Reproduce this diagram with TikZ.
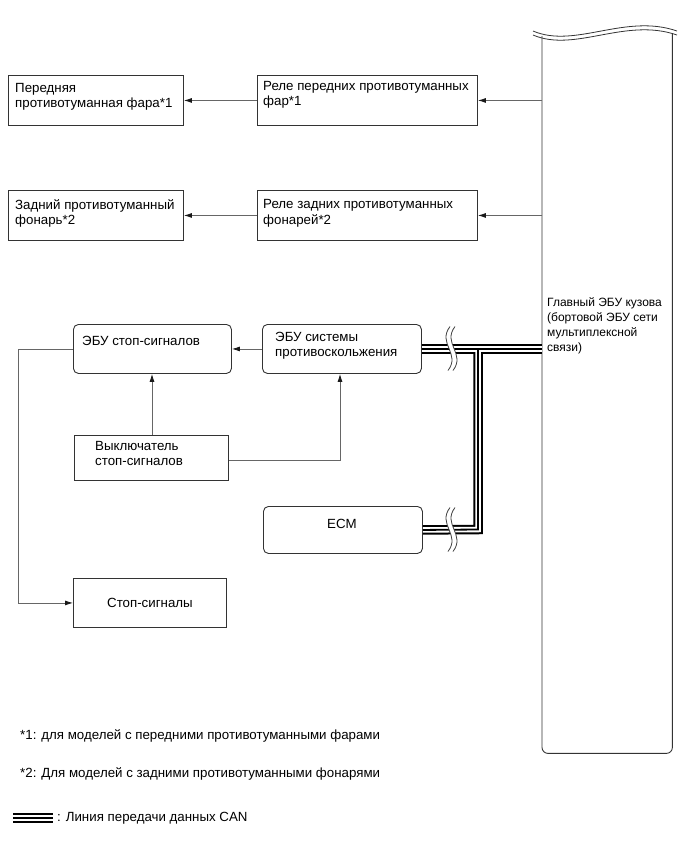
\documentclass[tikz,border=0pt]{standalone}
\usepackage{fontspec}
\setmainfont{Liberation Sans}
\usetikzlibrary{arrows.meta}
\newcommand\brkmark[1]{%
\begin{scope}[shift={#1}]
 \fill[white] (1,-22) .. controls (-12,-5) and (12,5) .. (-1,22) -- (4,22) .. controls (17,5) and (-7,-5) .. (6,-22) -- cycle;
 \draw[line width=0.8pt,black!75] (1,-22) .. controls (-12,-5) and (12,5) .. (-1,22);
 \draw[line width=0.8pt,black!75] (6,-22) .. controls (-7,-5) and (17,5) .. (4,22);
\end{scope}}
\begin{document}
\begin{tikzpicture}[x=1pt,y=-1pt,
 box/.style={draw=black!80, line width=0.9pt, inner sep=0, anchor=north west},
 rbox/.style={box, rounded corners=5pt},
 txt/.style={inner sep=0, anchor=north west, align=left, font=\fontsize{13.3}{15.2}\selectfont},
 conn/.style={draw=black!60, line width=0.8pt},
 arr/.style={conn, -{Latex[length=8pt,width=5pt,black!90]}},
 canA/.style={draw=black, line width=9.5pt},
 canB/.style={draw=white, line width=5.5pt},
 canC/.style={draw=black, line width=1.8pt},
]
\useasboundingbox (0,0) rectangle (690,855);

% main ECU
\node[inner sep=0, minimum width=130, minimum height=717, anchor=north west] (main) at (542,36) {};
\draw[black!80, line width=0.9pt, rounded corners=6pt] (main.north west) -- (main.south west) -- (main.south east) -- ([yshift=2]main.north east);
\draw[black!80, line width=0.8pt] (533,31) .. controls (575,49) and (625,13) .. (677,31);
\draw[black!80, line width=0.8pt] (533,35) .. controls (575,53) and (625,17) .. (677,35);
\node[txt, font=\fontsize{12}{15}\selectfont] (maint) at (547,297) {Главный ЭБУ кузова\\(бортовой ЭБУ сети\\мультиплексной\\связи)};

% fog lamps
\node[box, minimum width=175, minimum height=50] (ff) at (8,75) {};
\node[txt] (fft) at (15,83) {Передняя\\противотуманная фара*1};
\node[box, minimum width=220, minimum height=50] (rf) at (257,75) {};
\node[txt] (rft) at (263,81) {Реле передних противотуманных\\фар*1};
\node[box, minimum width=175, minimum height=50] (fr) at (8,190) {};
\node[txt] (frt) at (15,199) {Задний противотуманный\\фонарь*2};
\node[box, minimum width=220, minimum height=50] (rr) at (257,190) {};
\node[txt] (rrt) at (263,199.5) {Реле задних противотуманных\\фонарей*2};

\draw[arr] (main.west |- rf.east) -- (rf.east);
\draw[arr] (rf.west) -- (ff.east |- rf.west);
\draw[arr] (main.west |- rr.east) -- (rr.east);
\draw[arr] (rr.west) -- (fr.east |- rr.west);

% brake system
\node[rbox, minimum width=158, minimum height=49] (e1) at (73,324) {};
\node[txt] (e1t) at (82,336) {ЭБУ стоп-сигналов};
\node[rbox, minimum width=159, minimum height=49] (e2) at (262,324) {};
\node[txt] (e2t) at (275,332) {ЭБУ системы\\противоскольжения};
\node[box, minimum width=154, minimum height=45] (sw) at (74,435) {};
\node[txt] (swt) at (95,441) {Выключатель\\стоп-сигналов};
\node[rbox, minimum width=159, minimum height=47] (ecm) at (263,506) {};
\node[txt, anchor=center] (ecmt) at (342,524) {ECM};
\node[box, minimum width=153, minimum height=49, font=\fontsize{13.3}{15}\selectfont] (sl) at (73,578) {Стоп-сигналы};

\draw[arr] (e2.west) -- (e1.east);
\draw[arr] (sw.north -| 152,0) -- (e1.south -| 152,0);
\coordinate (swr) at (sw.east |- 0,460);
\draw[arr] (swr) -| (e2.south -| 340,0);
\coordinate (lft) at (18,0);
\draw[arr] (e1.west) -| (lft |- sl.west) -- (sl.west);

% CAN bus
\coordinate (j1) at (478,348.5);
\coordinate (j2) at (478,529.5);
\foreach \s in {canA,canB,canC}{
  \draw[\s] (e2.east) -- (main.west |- e2.east);
  \draw[\s] (ecm.east) -- (j2) -- (j1);
}
\brkmark{(449,348.5)}
\brkmark{(449,529.5)}

% footnotes
\node[txt] (n1) at (20,729.5) {*1: для моделей с передними противотуманными фарами};
\node[txt] (n2) at (20,767.5) {*2: Для моделей с задними противотуманными фонарями};
\coordinate (lg1) at (13,818);
\coordinate (lg2) at (53,818);
\foreach \s in {canA,canB,canC}{ \draw[\s] (lg1) -- (lg2); }
\node[txt, anchor=west] (lgt) at (57,818) {: Линия передачи данных CAN};
\end{tikzpicture}
\end{document}
